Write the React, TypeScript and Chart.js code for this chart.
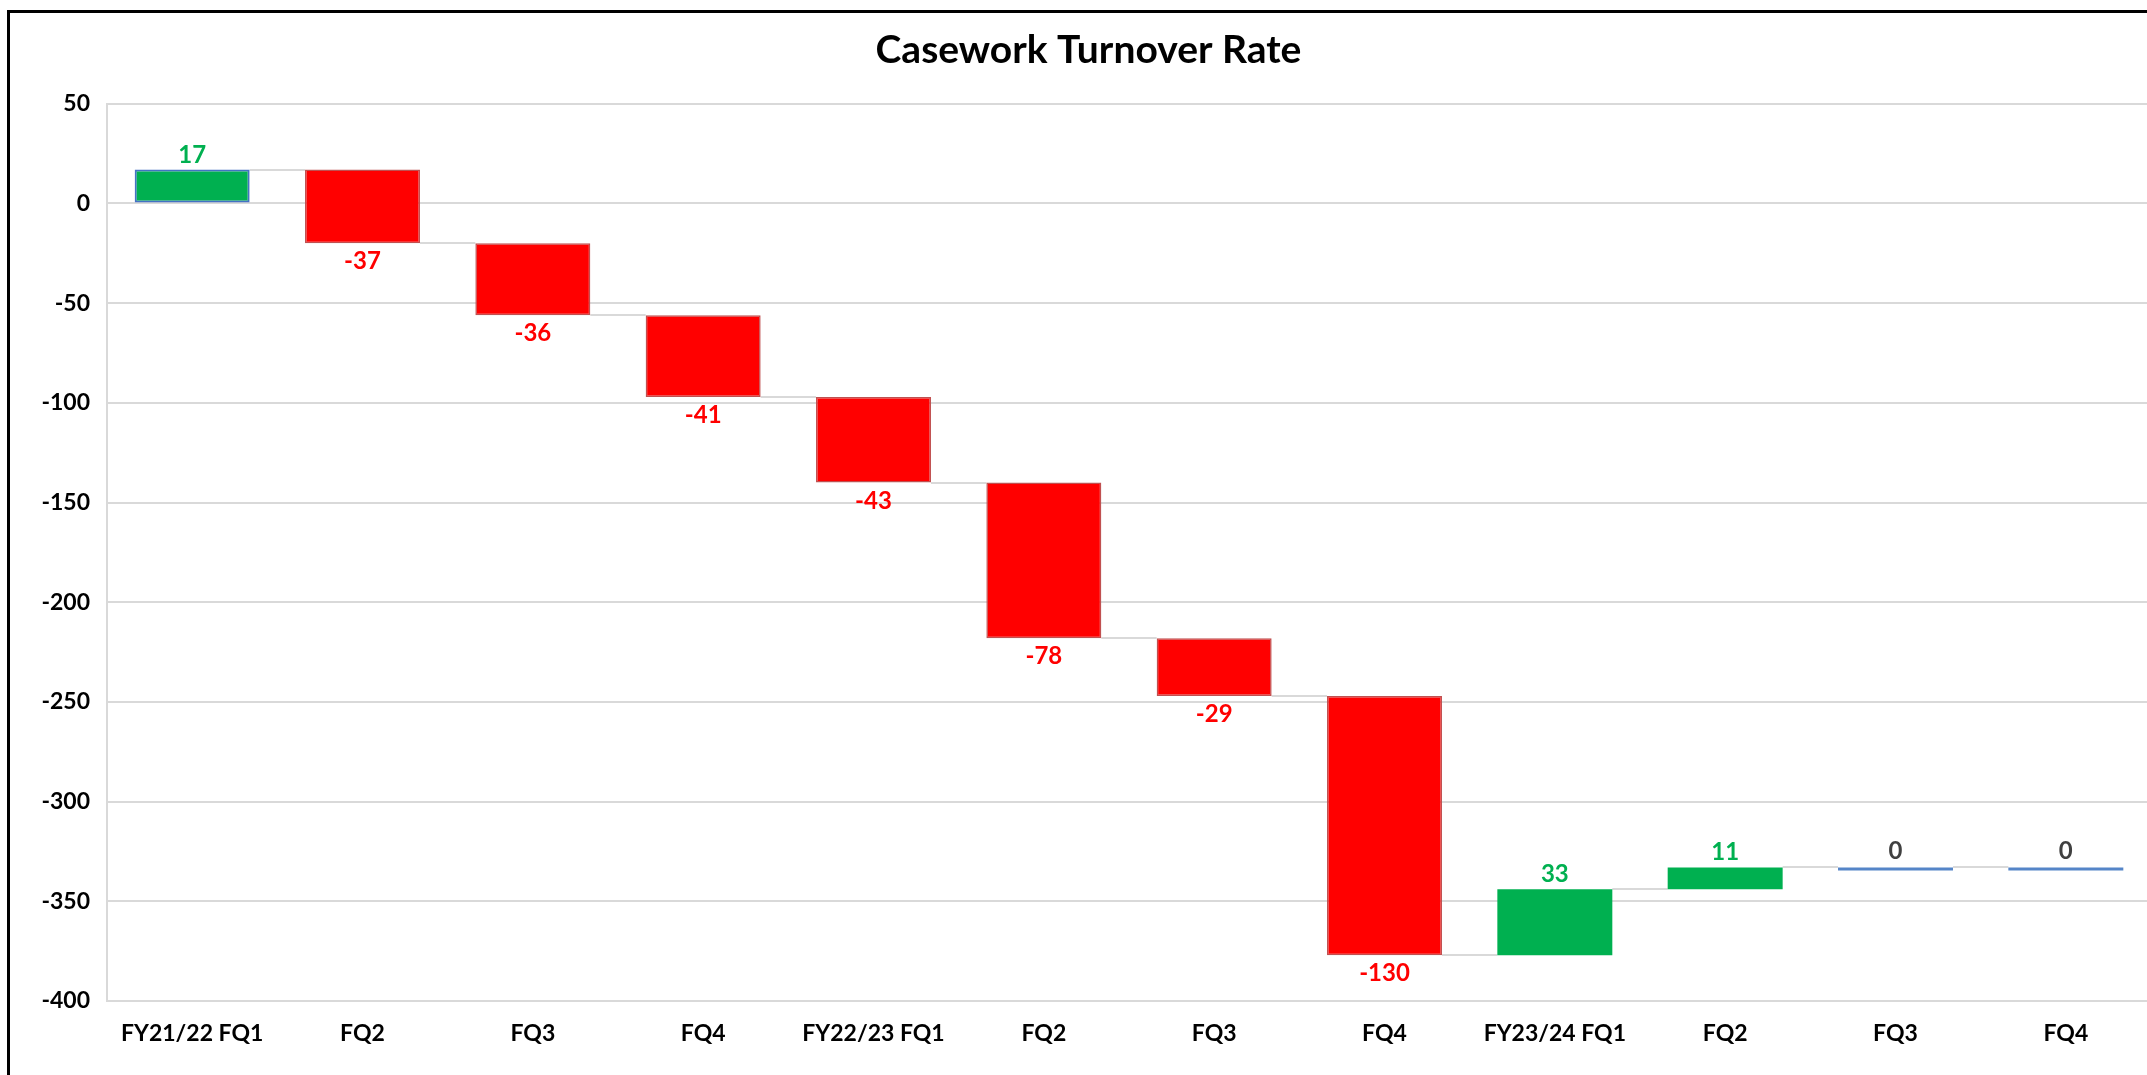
import React, { useEffect, useRef } from 'react';
import { Chart, registerables } from 'chart.js';

Chart.register(...registerables);

const chartTitle = 'Casework Turnover Rate';
const categories = [
  'FY21/22 FQ1', 'FQ2', 'FQ3', 'FQ4',
  'FY22/23 FQ1', 'FQ2', 'FQ3', 'FQ4',
  'FY23/24 FQ1', 'FQ2', 'FQ3', 'FQ4',
];
const changes = [17, -37, -36, -41, -43, -78, -29, -130, 33, 11, 0, 0];
const yMin = -400;
const yMax = 50;
const yStep = 50;

const GREEN = '#00B050';
const RED = '#FF0000';
const BLUE = '#4472C4';
const ZERO_BLUE = '#5585C8';
const RED_EDGE = '#C05050';
const GRID = '#D9D9D9';
const ZERO_LABEL = '#404040';
const FONT = 'Lato, "Open Sans", sans-serif';

export default function App() {
  const ref = useRef<HTMLCanvasElement>(null);

  useEffect(() => {
    if (!ref.current) return;
    const ranges: [number, number][] = [];
    const ends: number[] = [];
    let acc = 0;
    changes.forEach((c) => {
      const s = acc;
      acc += c;
      ranges.push([s, acc]);
      ends.push(acc);
    });

    const bg = changes.map((c) => (c > 0 ? GREEN : c < 0 ? RED : ZERO_BLUE));
    const bc = changes.map((c, i) => (i === 0 ? BLUE : c < 0 ? RED_EDGE : c > 0 ? GREEN : ZERO_BLUE));
    const bw = changes.map((c, i) => (i === 0 ? 2 : c < 0 ? 1.5 : 0));

    const waterfallPlugin = {
      id: 'waterfallExtras',
      beforeDatasetsDraw(chart: any) {
        const meta = chart.getDatasetMeta(0);
        const y = chart.scales.y;
        const ctx = chart.ctx;
        ctx.save();
        ctx.strokeStyle = GRID;
        ctx.lineWidth = 2;
        for (let i = 0; i < meta.data.length - 1; i++) {
          const a: any = meta.data[i];
          const b: any = meta.data[i + 1];
          const py = Math.round(y.getPixelForValue(ends[i]));
          ctx.beginPath();
          ctx.moveTo(a.x + a.width / 2, py);
          ctx.lineTo(b.x - b.width / 2, py);
          ctx.stroke();
        }
        ctx.restore();
      },
      afterDatasetsDraw(chart: any) {
        const meta = chart.getDatasetMeta(0);
        const y = chart.scales.y;
        const ctx = chart.ctx;
        ctx.save();
        ctx.font = `bold 24px ${FONT}`;
        ctx.textAlign = 'center';
        ctx.textBaseline = 'alphabetic';
        meta.data.forEach((el: any, i: number) => {
          const v = changes[i];
          const pStart = y.getPixelForValue(ranges[i][0]);
          const pEnd = y.getPixelForValue(ranges[i][1]);
          const top = Math.min(pStart, pEnd);
          const bottom = Math.max(pStart, pEnd);
          if (v < 0) {
            ctx.fillStyle = RED;
            ctx.fillText(String(v), el.x, bottom + 9 + 17);
          } else {
            ctx.fillStyle = v > 0 ? GREEN : ZERO_LABEL;
            ctx.fillText(String(v), el.x, top - (v > 0 ? 7 : 8));
          }
        });
        ctx.restore();
      },
    };

    Chart.defaults.color = '#000';
    const chart = new Chart(ref.current, {
      type: 'bar',
      data: {
        labels: categories,
        datasets: [
          {
            data: ranges as any,
            backgroundColor: bg,
            borderColor: bc,
            borderWidth: bw,
            borderSkipped: false,
            barPercentage: 0.675,
            categoryPercentage: 1,
            minBarLength: 3,
          },
        ],
      },
      options: {
        responsive: false,
        animation: false,
        devicePixelRatio: 1,
        layout: { padding: { left: 26, right: 0, top: 0, bottom: 0 } },
        plugins: {
          legend: { display: false },
          tooltip: { enabled: false },
          title: {
            display: true,
            text: chartTitle,
            color: '#000',
            font: { family: FONT, size: 39, weight: 'bold', lineHeight: 1.2 },
            padding: { top: 27, bottom: 30 },
          },
        },
        scales: {
          x: {
            grid: { display: false, drawTicks: false },
            border: { display: false },
            ticks: {
              color: '#000',
              font: { family: FONT, size: 23, weight: 'bold' },
              padding: 19,
              maxRotation: 0,
              autoSkip: false,
            },
            afterFit(scale: any) {
              scale.height = 99;
            },
          },
          y: {
            min: yMin,
            max: yMax,
            grid: { color: GRID, lineWidth: 2, drawTicks: false },
            border: { display: true, color: GRID, width: 2 },
            ticks: {
              stepSize: yStep,
              color: '#000',
              font: { family: FONT, size: 23, weight: 'bold' },
              padding: 17,
            },
            afterFit(scale: any) {
              scale.width = 81;
            },
          },
        },
      },
      plugins: [waterfallPlugin],
    });
    return () => chart.destroy();
  }, []);

  return (
    <div
      style={{
        position: 'fixed',
        left: 0,
        top: 0,
        width: '100vw',
        height: '100vh',
        overflow: 'hidden',
        background: '#fff',
      }}
    >
      <canvas
        ref={ref}
        width={2151}
        height={1100}
        style={{ position: 'absolute', left: 0, top: 0, width: 2151, height: 1100 }}
      />
      <div
        style={{
          position: 'absolute',
          left: 7,
          top: 10,
          width: 2400,
          height: 1300,
          border: '3px solid #000',
          pointerEvents: 'none',
        }}
      />
    </div>
  );
}
